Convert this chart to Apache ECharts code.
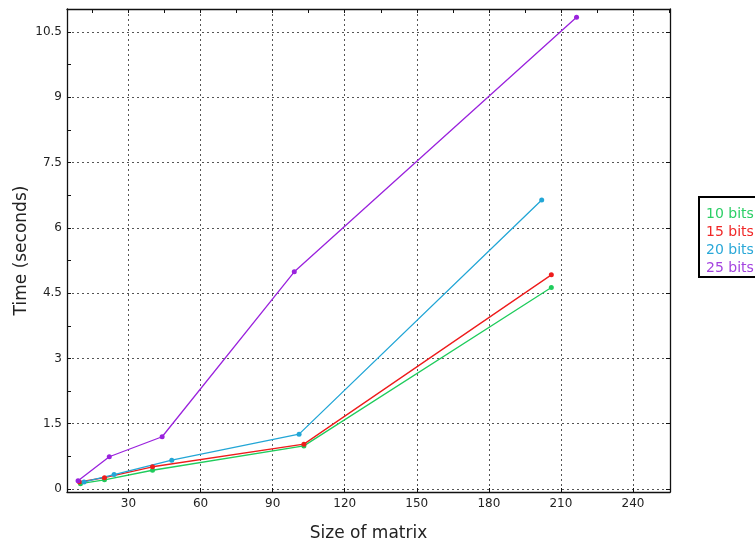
<!DOCTYPE html>
<html>
<head>
<meta charset="utf-8">
<script src="https://cdn.jsdelivr.net/npm/echarts@6/dist/echarts.min.js"></script>
<style>
  html, body { margin: 0; padding: 0; background: #fff; }
  #main { width: 755px; height: 542px; }
</style>
</head>
<body>
<div id="main"></div>
<script>
// 数据
const names = ['10 bits', '15 bits', '20 bits', '25 bits'];
const colors = ['#1fcc5c', '#ee1c1c', '#22a6d6', '#9a22dd'];
const legendColors = ['#2ccf66', '#f02828', '#2aa8d8', '#a444e0'];

const bits10X = [10, 20, 40, 103, 206];
const bits10Y = [0.12, 0.21, 0.43, 0.99, 4.63];
const bits15X = [9.6, 20, 40, 103, 206];
const bits15Y = [0.16, 0.26, 0.51, 1.03, 4.92];
const bits20X = [11.5, 24, 48, 101, 202];
const bits20Y = [0.16, 0.33, 0.66, 1.26, 6.64];
const bits25X = [9, 22, 44, 99, 216.5];
const bits25Y = [0.19, 0.74, 1.2, 4.99, 10.84];

const xTicks = [30, 60, 90, 120, 150, 180, 210, 240];
const yTicks = [0, 1.5, 3, 4.5, 6, 7.5, 9, 10.5];
const xMinor = [15, 30, 45, 60, 75, 90, 105, 120, 135, 150, 165, 180, 195, 210, 225, 240, 255];
const yMinor = [0, 0.75, 1.5, 2.25, 3, 3.75, 4.5, 5.25, 6, 6.75, 7.5, 8.25, 9, 9.75, 10.5];

const xs = [bits10X, bits15X, bits20X, bits25X];
const ys = [bits10Y, bits15Y, bits20Y, bits25Y];

const font = 'DejaVu Sans';

let myChart = echarts.init(document.getElementById('main'));

function axisBase(extra) {
  return Object.assign({
    type: 'value',
    axisLine: { show: true, onZero: false, lineStyle: { color: '#111', width: 1.3 } },
    axisTick: { show: true, inside: true, length: 4, lineStyle: { color: '#111' } },
    splitLine: { show: false }
  }, extra);
}

let option = {
  backgroundColor: '#fff',
  animation: false,
  grid: { left: 67, right: 85, top: 9, bottom: 50, outerBoundsMode: 'none', containLabel: false },
  legend: {
    orient: 'vertical',
    left: 699,
    top: 197,
    icon: 'rect',
    itemWidth: 0,
    itemHeight: 14,
    itemGap: 4,
    itemStyle: { opacity: 0 },
    padding: [10, 60, 2, 2],
    borderColor: '#000',
    borderWidth: 2,
    data: names.map((n, i) => ({ name: n, textStyle: { color: legendColors[i] } })),
    textStyle: { fontFamily: font, fontSize: 14 }
  },
  xAxis: [
    axisBase({
      min: 4.4, max: 255.4,
      name: 'Size of matrix',
      nameLocation: 'middle',
      nameGap: 33,
      nameTextStyle: { fontFamily: font, fontSize: 17, color: '#222' },
      axisTick: { show: true, inside: true, length: 4, customValues: xTicks, lineStyle: { color: '#111' } },
      axisLabel: { customValues: xTicks, fontFamily: font, fontSize: 12, color: '#222', margin: 6 },
      splitLine: { show: true, lineStyle: { color: '#555', type: [2, 3], width: 1 } }
    }),
    axisBase({
      min: 4.4, max: 255.4,
      position: 'top',
      axisTick: { show: true, inside: true, length: 4, customValues: xMinor, lineStyle: { color: '#111' } },
      axisLabel: { show: false }
    })
  ],
  yAxis: [
    axisBase({
      min: -0.07, max: 11.03,
      name: 'Time (seconds)',
      nameLocation: 'middle',
      nameGap: 37,
      nameMoveOverlap: false,
      nameTextStyle: { fontFamily: font, fontSize: 17, color: '#222' },
      axisTick: { show: true, inside: true, length: 4, customValues: yMinor, lineStyle: { color: '#111' } },
      axisLabel: { customValues: yTicks, fontFamily: font, fontSize: 12, color: '#222', margin: 5 },
      splitLine: { show: false }
    }),
    axisBase({
      min: -0.07, max: 11.03,
      position: 'right',
      axisTick: { show: true, inside: true, length: 4, customValues: yTicks, lineStyle: { color: '#111' } },
      axisLabel: { show: false },
      splitLine: { show: true, lineStyle: { color: '#555', type: [2, 3], width: 1 } }
    })
  ],
  series: names.map((n, i) => ({
    name: n,
    type: 'line',
    xAxisIndex: 0,
    yAxisIndex: 0,
    color: colors[i],
    symbol: 'circle',
    symbolSize: 5,
    lineStyle: { width: 1.3 },
    data: xs[i].map((x, j) => [x, ys[i][j]])
  }))
};
myChart.setOption(option);
</script>
</body>
</html>
